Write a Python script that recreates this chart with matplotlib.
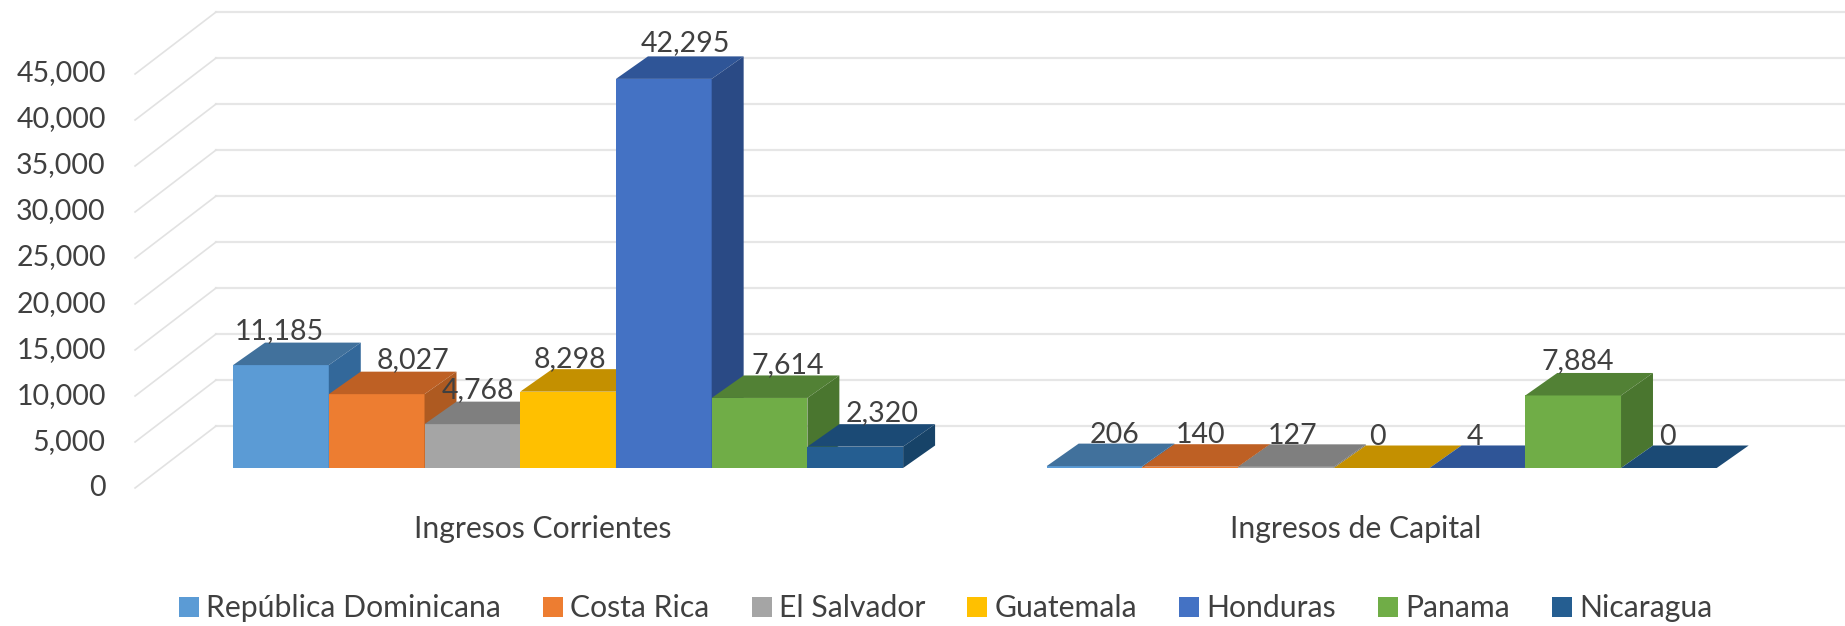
import matplotlib
matplotlib.use("Agg")
import matplotlib.pyplot as plt
from matplotlib.patches import Patch

plt.rcParams["font.family"] = ["Lato", "DejaVu Sans"]

categories = ["Ingresos Corrientes", "Ingresos de Capital"]
countries = ["República Dominicana", "Costa Rica", "El Salvador", "Guatemala", "Honduras", "Panama", "Nicaragua"]
corrientes = [11185, 8027, 4768, 8298, 42295, 7614, 2320]
capital = [206, 140, 127, 0, 4, 7884, 0]
yticks = list(range(0, 50000, 5000))

front_colors = ["#5B9BD5", "#ED7D31", "#A5A5A5", "#FFC000", "#4472C4", "#70AD47", "#255E91"]
top_colors = ["#41719C", "#BE6024", "#7F7F7F", "#C49000", "#2F5597", "#528135", "#1B4A75"]
side_colors = ["#33689A", "#AE5A21", "#6F6F6F", "#B08000", "#2A4A85", "#4A762F", "#174368"]

# nudges for the data labels (Excel put them by hand): bar widths across, value units up
nudge_x = [[-0.02, 0.38, 0.06, 0.02, 0.23, 0.29, 0.28],
           [0.21, 0.11, 0.07, -0.04, -0.03, 0.05, -0.02]]
nudge_y = [[1250, 1300, 1250, 1050, 1500, 1150, 1250],
           [950, 950, 950, 950, 950, 1350, 950]]

TEXT = "#404040"
FS = 20.5
FS_SMALL = 21.7
GROUP_STEP = 8.5    # bars from one group to the next
DX = 0.334          # depth of a bar, in bar widths
DY = 2445           # depth of a bar, in value units
GRID_FRONT = (-1.024, -2174)
GRID_BACK = (-0.178, 4565)

fig = plt.figure(figsize=(18.45, 6.26), dpi=100)
ax = fig.add_axes([0, 0, 1, 1])
ax.set_xlim(-2.435, 16.84)
ax.set_ylim(-17174, 50870)
ax.axis("off")

# back wall and left wall
for v in yticks:
    ax.plot([GRID_BACK[0], 16.84], [v + GRID_BACK[1], v + GRID_BACK[1]], color="#E6E6E6", lw=1.6, zorder=1)
    ax.plot([GRID_FRONT[0], GRID_BACK[0]], [v + GRID_FRONT[1], v + GRID_BACK[1]], color="#E2E2E2", lw=1.2, zorder=1)
    ax.text(-1.33, v + GRID_FRONT[1] + v * 0.002, f"{v:,}", ha="right", va="center", fontsize=FS, color=TEXT)

for g, values in enumerate([corrientes, capital]):
    for i, v in enumerate(values):
        x0 = i + g * GROUP_STEP
        x1 = x0 + 1
        ax.bar(x0, v, width=1, align="edge", color=front_colors[i], lw=0, zorder=3)
        ax.fill([x0, x1, x1 + DX, x0 + DX], [v, v, v + DY, v + DY], color=top_colors[i], lw=0, zorder=3)
        ax.fill([x1, x1 + DX, x1 + DX, x1], [0, DY, v + DY, v], color=side_colors[i], lw=0, zorder=3)
    for i, v in enumerate(values):
        ax.text(i + g * GROUP_STEP + 0.5 + nudge_x[g][i], v + DY + nudge_y[g][i], f"{v:,}", ha="center", va="center",
                fontsize=FS, color=TEXT, zorder=5)
    ax.text(3.23 + g * GROUP_STEP, -6650, categories[g], ha="center", va="center", fontsize=FS_SMALL, color=TEXT)

handles = [Patch(color=c, label=n, lw=0) for c, n in zip(front_colors, countries)]
fig.legend(handles=handles, ncol=7, loc="center", bbox_to_anchor=(0.5127, 0.028), frameon=False,
           fontsize=FS_SMALL, labelcolor=TEXT, handlelength=0.66, handleheight=0.66, handletextpad=0.24,
           columnspacing=1.4, borderpad=0)

fig.savefig("out.png", dpi=100)
